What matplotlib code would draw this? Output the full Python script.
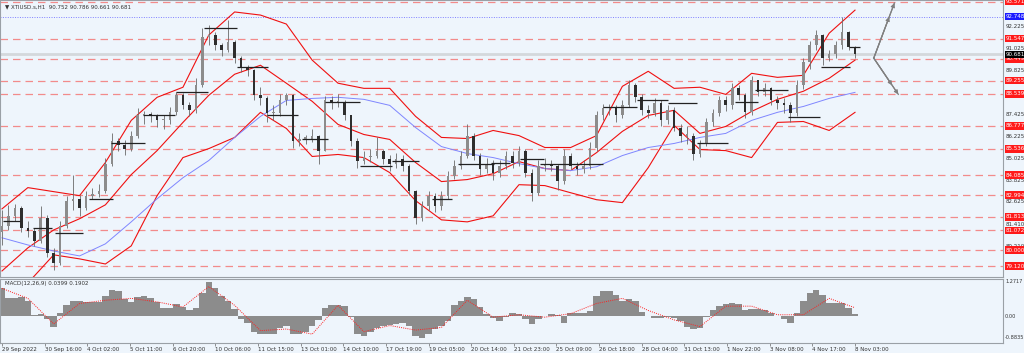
import matplotlib
matplotlib.use("Agg")
import matplotlib.pyplot as plt
import numpy as np

# ---- price data (H1 bars sampled every 5 bars) ----
close = [81.33, 81.87, 82.31, 81.22, 81.05, 80.50, 81.76, 79.85, 79.30, 81.33,
         82.70, 82.80, 82.31, 82.97, 83.08, 83.24, 84.72, 85.98, 85.71, 85.54,
         86.25, 87.35, 87.35, 87.30, 87.08, 87.08, 87.52, 88.45, 87.90, 87.63,
         89.00, 91.63, 91.74, 91.19, 90.91, 91.35, 90.47, 89.93, 89.82, 88.45,
         88.28, 87.46, 87.46, 88.17, 88.45, 85.98, 86.09, 86.09, 86.25, 85.43,
         88.17, 88.06, 88.06, 87.35, 85.98, 84.89, 85.10, 85.16, 85.43, 84.99,
         84.72, 84.99, 84.61, 83.24, 81.76, 82.42, 82.97, 82.42, 82.97, 84.06,
         84.61, 85.16, 86.25, 85.16, 84.45, 84.72, 84.23, 84.61, 85.16, 84.78,
         85.43, 84.23, 83.13, 84.61, 84.72, 84.61, 83.79, 85.16, 84.61, 84.45,
         84.61, 85.60, 87.35, 87.73, 87.73, 87.35, 87.90, 89.00, 88.34, 87.63,
         87.46, 88.01, 87.08, 87.63, 86.69, 86.25, 86.25, 85.27, 85.82, 86.97,
         87.46, 88.17, 87.90, 88.83, 88.45, 87.52, 89.27, 88.61, 88.83, 88.17,
         88.01, 87.90, 87.46, 89.00, 90.25, 91.19, 91.74, 90.47, 90.69, 91.19,
         91.90, 91.08, 90.68]
high = [82.20, 82.45, 82.50, 82.40, 81.60, 81.20, 82.40, 81.90, 80.10, 81.60,
        82.95, 84.10, 83.00, 83.20, 83.40, 83.60, 85.00, 86.40, 86.10, 86.00,
        86.50, 87.75, 87.60, 87.55, 87.45, 87.40, 87.80, 88.65, 88.55, 88.10,
        89.40, 92.10, 92.30, 91.90, 91.30, 92.56, 91.45, 90.60, 90.10, 89.90,
        88.90, 88.40, 87.90, 88.50, 88.60, 88.50, 86.40, 86.30, 86.60, 86.30,
        88.40, 88.40, 88.50, 88.20, 87.40, 86.10, 85.40, 85.50, 86.15, 85.50,
        85.20, 85.30, 85.20, 84.70, 83.30, 82.70, 83.20, 83.10, 83.20, 84.30,
        84.90, 85.40, 86.90, 86.40, 85.30, 85.00, 84.90, 84.90, 85.40, 85.40,
        85.70, 85.50, 84.40, 84.90, 85.00, 84.90, 84.70, 85.50, 85.30, 84.80,
        84.90, 85.90, 87.60, 87.95, 88.00, 87.90, 88.20, 89.30, 89.10, 88.50,
        87.90, 88.30, 88.20, 87.90, 87.80, 86.90, 86.80, 86.40, 86.00, 87.20,
        87.70, 88.40, 88.40, 89.10, 89.00, 88.60, 89.50, 89.30, 89.10, 88.90,
        88.40, 88.30, 88.10, 89.30, 90.50, 91.40, 92.00, 91.80, 90.95, 91.40,
        92.72, 91.95, 91.15]
low = [80.30, 81.10, 81.60, 81.00, 80.70, 80.20, 80.40, 79.60, 78.90, 79.20,
       81.20, 82.20, 81.85, 82.20, 82.80, 82.90, 83.10, 84.60, 85.40, 85.20,
       85.40, 86.10, 86.90, 87.00, 86.70, 86.60, 86.90, 87.40, 87.70, 87.30,
       87.50, 88.90, 91.20, 90.90, 90.60, 90.80, 90.20, 89.70, 89.50, 88.20,
       87.90, 87.00, 87.10, 87.30, 87.90, 85.60, 85.70, 85.80, 85.90, 84.70,
       85.40, 87.70, 87.80, 87.10, 85.70, 84.50, 84.70, 84.80, 85.00, 84.70,
       84.30, 84.50, 84.30, 83.00, 81.40, 81.60, 82.20, 82.10, 82.20, 82.80,
       83.90, 84.40, 85.00, 84.90, 84.10, 84.20, 83.80, 84.00, 84.40, 84.50,
       84.60, 84.00, 82.70, 83.00, 84.30, 84.30, 83.30, 83.60, 84.40, 84.10,
       84.20, 84.40, 85.40, 87.10, 87.40, 87.00, 87.20, 87.80, 88.10, 87.40,
       87.20, 87.30, 86.80, 86.90, 86.50, 85.90, 85.80, 84.90, 85.10, 85.70,
       86.80, 87.30, 87.60, 87.70, 88.20, 87.20, 87.40, 88.40, 88.40, 87.90,
       87.70, 87.50, 87.00, 87.30, 88.80, 89.90, 90.90, 90.10, 90.30, 90.50,
       91.00, 90.90, 90.50]
first_open = 81.00

# ---- indicators (sampled every 20 bars) ----
bb_upper = [82.25, 83.41, 83.19, 82.97, 84.78, 87.08, 88.34, 88.89, 91.74, 93.00,
            92.83, 92.34, 90.37, 89.11, 88.83, 88.83, 87.30, 86.15, 86.09, 86.53,
            86.25, 85.60, 85.60, 86.25, 88.94, 89.76, 88.83, 88.89, 88.50, 89.65,
            89.43, 89.54, 91.84, 93.10]
bb_mid = [78.86, 80.12, 81.10, 81.71, 82.47, 84.12, 85.43, 86.97, 88.45, 89.60,
          90.09, 89.11, 88.12, 86.86, 86.31, 86.04, 84.78, 83.74, 83.85, 84.17,
          84.83, 84.45, 84.34, 85.32, 86.48, 87.35, 87.63, 86.37, 86.75, 87.57,
          88.23, 88.67, 89.38, 90.37]
bb_lower = [77.60, 78.20, 79.74, 79.52, 79.24, 80.23, 82.97, 85.05, 85.54, 86.15,
            87.52, 86.64, 85.11, 85.22, 85.05, 84.23, 82.70, 81.65, 81.54, 81.87,
            83.57, 83.52, 83.13, 82.75, 82.59, 84.50, 86.81, 85.49, 85.43, 85.05,
            86.97, 87.02, 86.53, 87.52]
ma_blue = [80.67, 80.28, 79.95, 79.68, 80.34, 81.54, 82.80, 83.95, 84.89, 86.15,
           87.30, 88.17, 88.28, 88.34, 88.23, 87.90, 86.69, 85.65, 85.27, 85.05,
           84.72, 84.45, 84.34, 84.55, 85.16, 85.60, 85.82, 86.15, 86.37, 87.08,
           87.52, 87.84, 88.28, 88.61]

macd_hist = [1.03, 0.66, 0.66, 0.70, 0.55, 0.05, 0.08, -0.10, -0.40, 0.12,
             0.40, 0.56, 0.58, 0.53, 0.53, 0.53, 0.75, 0.98, 0.92, 0.65,
             0.52, 0.70, 0.74, 0.68, 0.52, 0.32, 0.32, 0.45, 0.35, 0.22,
             0.30, 0.85, 1.25, 1.05, 0.75, 0.55, 0.25, -0.12, -0.27, -0.60,
             -0.67, -0.67, -0.66, -0.45, -0.35, -0.68, -0.67, -0.58, -0.35, -0.15,
             0.30, 0.41, 0.40, 0.36, -0.04, -0.65, -0.75, -0.58, -0.45, -0.38,
             -0.32, -0.29, -0.25, -0.35, -0.75, -0.80, -0.65, -0.48, -0.38, -0.20,
             0.40, 0.58, 0.70, 0.65, 0.35, 0.06, -0.08, -0.20, -0.04, 0.12,
             0.08, -0.10, -0.30, -0.12, 0.02, 0.06, 0.03, -0.25, 0.10, 0.11,
             0.10, 0.18, 0.75, 0.93, 0.92, 0.80, 0.55, 0.64, 0.55, 0.15,
             0.00, -0.06, -0.08, -0.04, -0.08, -0.20, -0.41, -0.48, -0.45, -0.05,
             0.24, 0.38, 0.44, 0.50, 0.45, 0.22, 0.26, 0.25, 0.21, 0.10,
             0.01, -0.12, -0.24, 0.10, 0.58, 0.85, 0.97, 0.80, 0.48, 0.47,
             0.49, 0.30, 0.08]
macd_signal = [1.03, 0.66, -0.29, 0.47, 0.59, 0.66, 0.53, 0.34, 1.10, 0.40,
               -0.54, -0.48, -0.67, 0.40, -0.58, -0.35, -0.52, -0.42, 0.59, -0.04,
               0.05, -0.04, 0.09, 0.47, 0.66, 0.21, -0.14, -0.39, 0.37, 0.37,
               0.05, 0.05, 0.66, 0.31]

# ---- levels ----
red_levels = [93.571, 91.547, 90.449, 89.255, 88.539, 86.777, 85.536, 84.085,
              82.994, 81.813, 81.072, 80.000, 79.120]
blue_level = 92.748
last_price = 90.681
price_ticks = [92.225, 91.025, 89.825, 87.425, 86.225, 85.025, 83.825, 82.625,
               81.410, 80.210]

# short horizontal markers: (start bar, end bar, price)
markers = [(1, 14, 81.60), (24, 39, 81.22), (41, 63, 80.94), (67, 86, 82.80),
           (84, 111, 85.82), (109, 134, 87.35), (135, 159, 88.61),
           (156, 182, 92.12), (182, 206, 89.98), (205, 229, 87.35),
           (232, 252, 86.09), (250, 277, 88.06), (277, 302, 84.61),
           (302, 323, 84.89), (333, 348, 82.80), (353, 381, 84.72),
           (378, 393, 84.78), (401, 419, 84.99), (416, 465, 84.72),
           (465, 491, 87.79), (491, 515, 88.17), (515, 538, 88.01),
           (538, 562, 85.82), (567, 585, 88.06), (583, 608, 88.72),
           (608, 633, 87.24), (634, 656, 89.98), (655, 664, 91.08)]

# scenario arrows: start, up target, down target (bar, price)
arrow_start = (674.5, 90.48)
arrow_up = (690.5, 93.49)
arrow_down = (693.5, 88.50)

date_labels = ["29 Sep 2022", "30 Sep 16:00", "4 Oct 02:00", "5 Oct 11:00",
               "6 Oct 20:00", "10 Oct 06:00", "11 Oct 15:00", "13 Oct 01:00",
               "14 Oct 10:00", "17 Oct 19:00", "19 Oct 05:00", "20 Oct 14:00",
               "21 Oct 23:00", "25 Oct 09:00", "26 Oct 18:00", "28 Oct 04:00",
               "31 Oct 13:00", "1 Nov 22:00", "3 Nov 08:00", "4 Nov 17:00",
               "8 Nov 03:00"]

BG = "#eef5fc"
x_bar = np.arange(len(close)) * 5
x_ind = np.arange(len(bb_upper)) * 20
xlim = (-1.55, 774.5)

fig = plt.figure(figsize=(10.24, 3.53), dpi=100, facecolor=BG)
ax = fig.add_axes([0, 1 - 277 / 353, 1003 / 1024, 277 / 353], facecolor=BG)
ax2 = fig.add_axes([0, 1 - 343 / 353, 1003 / 1024, 64 / 353], facecolor=BG)

# level lines
for lv in red_levels:
    ax.axhline(lv, color="#f28b8b", lw=0.9, ls=(0, (6, 4)), zorder=1)
ax.axhline(blue_level, color="#8080ff", lw=0.7, ls=(0, (1, 1.5)), zorder=1)
ax.axhline(last_price, color="#d4d8dc", lw=2.0, zorder=1)

# bands and MA
ax.plot(x_ind, bb_upper, color="#f01010", lw=0.8, zorder=3)
ax.plot(x_ind, bb_mid, color="#f01010", lw=0.8, zorder=3)
ax.plot(x_ind, bb_lower, color="#f01010", lw=0.8, zorder=3)
ax.plot(x_ind, ma_blue, color="#7f86ff", lw=0.7, zorder=3)

# candles
opens = [first_open] + close[:-1]
ax.vlines(x_bar, low, high, color="#6a6a6a", lw=0.6, zorder=4)
for x, o, c in zip(x_bar, opens, close):
    fc = "#8c8c8c" if c >= o else "#2e2e2e"
    h = c - o if abs(c - o) > 0.06 else 0.06
    ax.bar(x, h, bottom=o, width=2.0, color=fc, lw=0, zorder=5)

for s, e, lv in markers:
    ax.hlines(lv, s, e, color="#222222", lw=0.9, zorder=6)

# arrows
for tgt in (arrow_up, arrow_down):
    ax.plot([arrow_start[0], tgt[0]], [arrow_start[1], tgt[1]],
            color="#808080", lw=0.9, zorder=6)
    mid = ((arrow_start[0] + tgt[0] * 3) / 4, (arrow_start[1] + tgt[1] * 3) / 4)
    for end in (mid, tgt):
        ax.annotate("", xy=end, xytext=arrow_start,
                    arrowprops=dict(arrowstyle="-|>", color="#808080", lw=0.8,
                                    mutation_scale=6, shrinkA=0, shrinkB=0),
                    zorder=6)

ax.set_xlim(*xlim)
ax.set_ylim(78.53, 93.653)
ax.set_xticks([])
ax.set_yticks([])
for sp in ax.spines.values():
    sp.set_color("#9aa0a6")
    sp.set_linewidth(0.8)

ax.text(0.005, 0.985, "\u25bc XTIUSD.s,H1  90.752 90.786 90.661 90.681",
        transform=ax.transAxes, fontsize=4, color="#333333", va="top")

# right axis labels
tf = ax.get_yaxis_transform()
for t in price_ticks:
    ax.text(1.003, t, f"{t:.3f}", transform=tf, fontsize=4, color="#333333",
            va="center", ha="left", clip_on=False)
for lv in red_levels:
    ax.text(1.003, lv, f"{lv:.3f}", transform=tf, fontsize=4, color="white",
            va="center", ha="left", clip_on=False,
            bbox=dict(boxstyle="square,pad=0.25", fc="#ff1a1a", ec="none"))
ax.text(1.003, blue_level, f"{blue_level:.3f}", transform=tf, fontsize=4,
        color="white", va="center", ha="left", clip_on=False,
        bbox=dict(boxstyle="square,pad=0.25", fc="#1a1aff", ec="none"))
ax.text(1.003, last_price, f"{last_price:.3f}", transform=tf, fontsize=4,
        color="white", va="center", ha="left", clip_on=False,
        bbox=dict(boxstyle="square,pad=0.25", fc="#000000", ec="none"))

# MACD panel
ax2.bar(x_bar, macd_hist, width=5.0, color="#8c8c8c", lw=0, zorder=2)
ax2.plot(x_ind, macd_signal, color="#ff2020", lw=0.7, ls=(0, (1, 1.2)), zorder=3)
ax2.set_xlim(*xlim)
ax2.set_ylim(-1.0, 1.38)
ax2.set_yticks([])
for sp in ax2.spines.values():
    sp.set_color("#9aa0a6")
    sp.set_linewidth(0.8)
ax2.text(0.005, 0.97, "MACD(12,26,9) 0.0399 0.1902", transform=ax2.transAxes,
         fontsize=4, color="#333333", va="top")
tf2 = ax2.get_yaxis_transform()
for v, lab in ((1.2717, "1.2717"), (0.0, "0.00"), (-0.80, "-0.8835")):
    ax2.text(1.002, v, lab, transform=tf2, fontsize=3.6, color="#333333",
             va="center", ha="left", clip_on=False)

ticks = np.arange(len(date_labels)) * 33
ax2.set_xticks(ticks)
ax2.set_xticklabels(date_labels, fontsize=4, color="#333333", ha="left")
ax2.tick_params(axis="x", length=2, width=0.5, pad=1, color="#666666")

fig.savefig("out.png", dpi=100, facecolor=BG)
